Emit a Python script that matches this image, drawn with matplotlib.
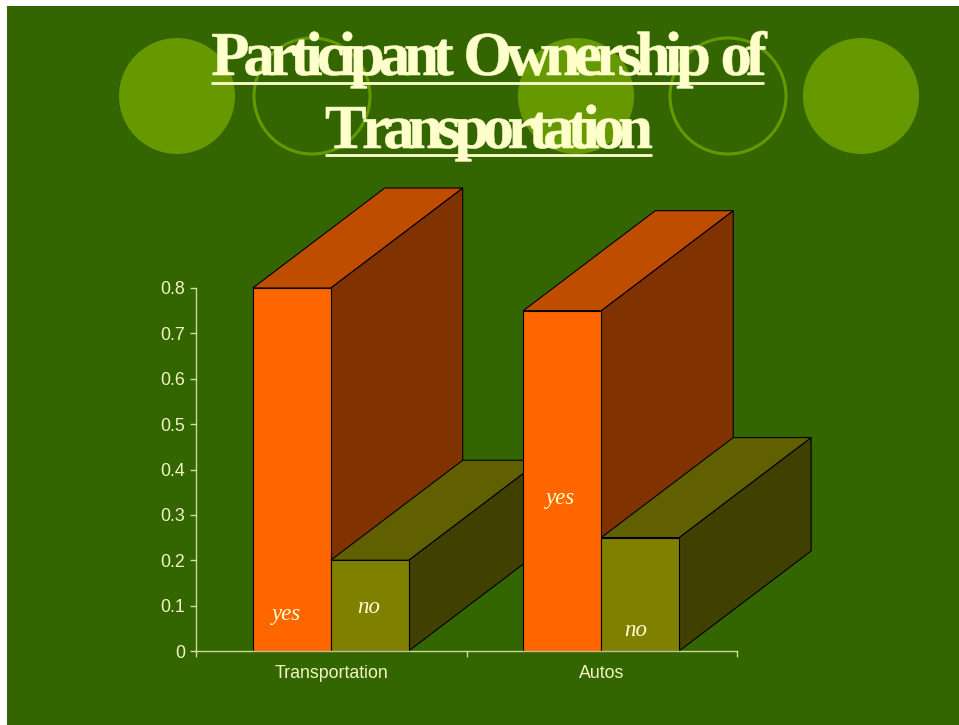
import matplotlib
matplotlib.use("Agg")
import matplotlib.pyplot as plt
import matplotlib.patheffects as pe
import numpy as np
from matplotlib.patches import Circle, Polygon, Rectangle
from matplotlib.path import Path

categories = ["Transportation", "Autos"]
yes_values = [0.8, 0.75]
no_values = [0.2, 0.25]
yes_label_x = [0.333, 1.346]
yes_label_y = [0.080, 0.336]
no_label_x = [0.64, 1.627]
no_label_y = [0.096, 0.046]
y_ticks = [0, 0.1, 0.2, 0.3, 0.4, 0.5, 0.6, 0.7, 0.8]
y_tick_labels = ["0", "0.1", "0.2", "0.3", "0.4", "0.5", "0.6", "0.7", "0.8"]

W, H = 959, 725
cream = "#FFFFCC"
green = "#336600"
light = "#669900"

bar_w = 0.288
gap = 0.21
depth_x = 0.488
depth_y = 0.2204


class Tighten(pe.AbstractPathEffect):
    # matplotlib has no letter spacing, so glyphs get pulled together here
    def __init__(self, width_px, stroke):
        super().__init__()
        self.width_px = width_px
        self.stroke = stroke

    def draw_path(self, renderer, gc, tpath, affine, rgbFace=None):
        verts = np.array(tpath.vertices, dtype=float)
        codes = np.array(tpath.codes)
        starts = list(np.where(codes == Path.MOVETO)[0]) + [len(codes)]
        # contours that share an x range belong to one glyph
        spans = sorted((verts[a:b, 0].min(), verts[a:b, 0].max(), a, b) for a, b in zip(starts[:-1], starts[1:]))
        groups = []
        for lo, hi, a, b in spans:
            if groups and lo < groups[-1][0]:
                groups[-1][0] = max(groups[-1][0], hi)
                groups[-1][1].append((a, b))
            else:
                groups.append([hi, [(a, b)]])
        x0 = verts[:, 0].min()
        x1 = verts[:, 0].max()
        unit = affine.get_matrix()[0, 0]
        step = ((x1 - x0) - self.width_px / unit) / (len(groups) - 1)
        for i, g in enumerate(groups):
            for a, b in g[1]:
                verts[a:b, 0] -= i * step
        # keep the line centred after pulling it in
        verts[:, 0] += step * (len(groups) - 1) / 2
        gc0 = renderer.new_gc()
        gc0.copy_properties(gc)
        gc0.set_foreground(cream)
        gc0.set_linewidth(self.stroke)
        renderer.draw_path(gc0, Path(verts, codes), affine, rgbFace)
        gc0.restore()


def box(ax, x, val, front, top, side):
    # front, top and side faces of one 3d bar
    ax.add_patch(Polygon([(x + bar_w, 0), (x + bar_w + depth_x, depth_y), (x + bar_w + depth_x, val + depth_y), (x + bar_w, val)],
                         fc=side, ec="black", lw=0.8, clip_on=False))
    ax.add_patch(Polygon([(x, val), (x + depth_x, val + depth_y), (x + bar_w + depth_x, val + depth_y), (x + bar_w, val)],
                         fc=top, ec="black", lw=0.8, clip_on=False))
    ax.add_patch(Rectangle((x, 0), bar_w, val, fc=front, ec="black", lw=0.8, clip_on=False))


fig = plt.figure(figsize=(W / 100, H / 100), dpi=100, facecolor="white")

# slide background
bg = fig.add_axes([0, 0, 1, 1])
bg.set_xlim(0, W)
bg.set_ylim(H, 0)
bg.axis("off")
bg.add_patch(Rectangle((7, 6), W - 7, H - 6, fc=green, ec="none"))
for cx, filled in [(177, True), (312, False), (576, True), (728, False), (861, True)]:
    if filled:
        bg.add_patch(Circle((cx, 96), 58, fc=light, ec="none"))
    else:
        bg.add_patch(Circle((cx, 96), 58, fc="none", ec=light, lw=2.2))

# title
serif = ["Liberation Serif", "DejaVu Serif"]
sans = ["Liberation Sans", "DejaVu Sans"]
bg.text(489, 75, "Participant Ownership of", ha="center", va="baseline", color=cream, family=serif,
        weight="bold", fontsize=45, path_effects=[Tighten(556, 0.4)])
bg.text(489, 148, "Transportation", ha="center", va="baseline", color=cream, family=serif,
        weight="bold", fontsize=45, path_effects=[Tighten(327, 0.4)])
bg.plot([211, 764], [82.5, 82.5], color=cream, lw=2, solid_capstyle="butt")
bg.plot([325, 652], [154.5, 154.5], color=cream, lw=2, solid_capstyle="butt")

# chart
ax = fig.add_axes([196 / W, 1 - 651 / H, (737 - 196) / W, (651 - 288) / H])
ax.patch.set_alpha(0)
ax.set_xlim(0, len(categories))
ax.set_ylim(0, 0.8)
for s in ["top", "right"]:
    ax.spines[s].set_visible(False)
for s in ["left", "bottom"]:
    ax.spines[s].set_color(cream)
    ax.spines[s].set_linewidth(1.0)
    ax.spines[s].set_alpha(0.75)
    ax.spines[s].set_zorder(5)

ax.set_yticks(y_ticks)
ax.set_yticklabels(y_tick_labels, family=sans)
ax.set_xticks(range(len(categories) + 1))
ax.set_xticklabels([])
ax.set_xticks([i + 0.5 for i in range(len(categories))], minor=True)
ax.set_xticklabels(categories, minor=True, family=sans)
ax.tick_params(axis="both", which="major", length=4.5, width=1.0, color="#D0DBA0", labelcolor="#F2F5C2", labelsize=12.8)
ax.tick_params(axis="x", which="minor", length=0, labelcolor="#F2F5C2", labelsize=12.8, pad=10)

for i in range(len(categories)):
    x = i + gap
    box(ax, x, yes_values[i], "#FF6600", "#BF4D00", "#803300")
    box(ax, x + bar_w, no_values[i], "#808000", "#606000", "#404000")
    ax.text(yes_label_x[i], yes_label_y[i], "yes", ha="center", va="center", color="#FFFFCC", family=serif,
            style="italic", fontsize=16.5)
    ax.text(no_label_x[i], no_label_y[i], "no", ha="center", va="center", color="#FFFFCC", family=serif,
            style="italic", fontsize=16.5)

fig.savefig("out.png", dpi=100, facecolor="white")
